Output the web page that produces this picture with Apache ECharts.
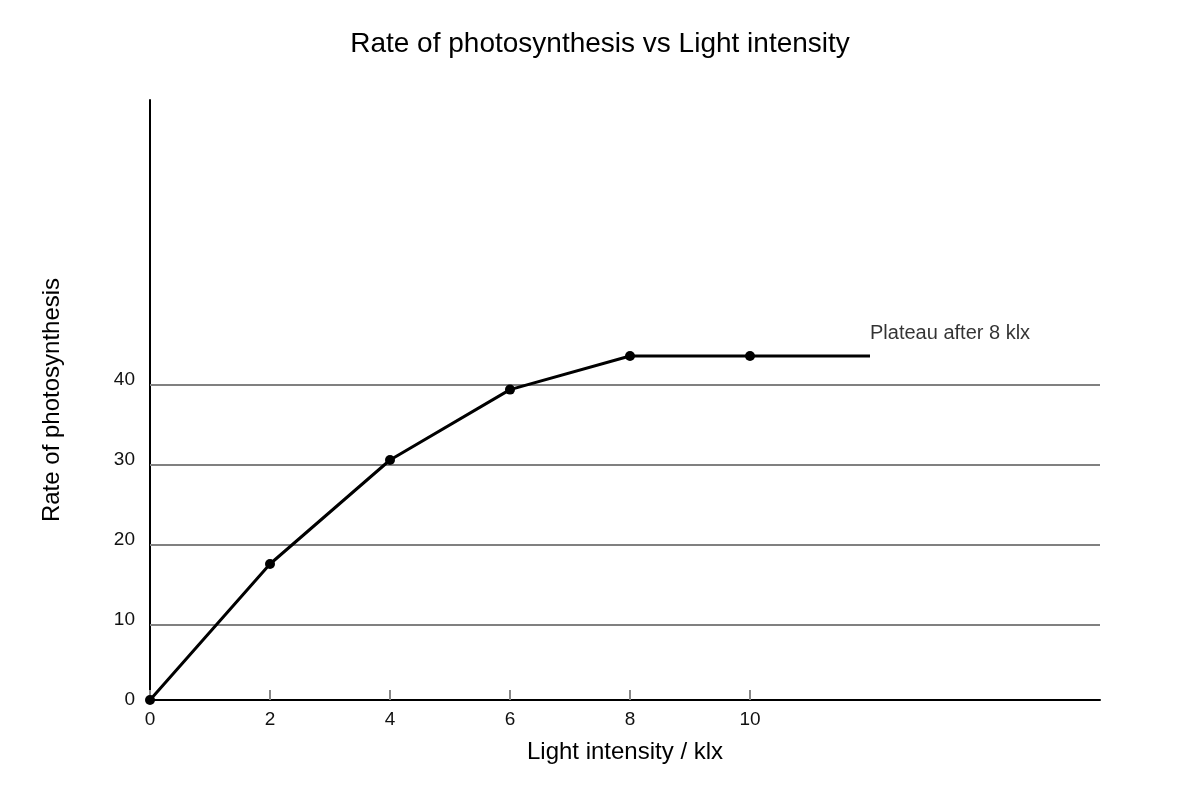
<!DOCTYPE html>
<html>
<head>
<meta charset="utf-8"/>
<script src="https://cdn.jsdelivr.net/npm/echarts@6/dist/echarts.min.js"></script>
<style>
  html, body { margin:0; padding:0; background:#fff; }
  #chart { width:1200px; height:800px; }
</style>
</head>
<body>
<div id="chart"></div>
<script>
// light intensity (klx) and rate readings
var light = [0, 2, 4, 6, 8, 10, 12];
var rate = [0, 17, 30, 38.8, 43, 43, 43];
var xTicks = [0, 2, 4, 6, 8, 10];
var yTicks = [0, 10, 20, 30, 40];
var gridVals = [10, 20, 30, 40];
var noteText = 'Plateau after 8 klx';

var font = 'Liberation Sans, Arial, sans-serif';
var chart = echarts.init(document.getElementById('chart'));

var pts = [];
for (var i = 0; i < light.length; i++) {
  var p = { value: [light[i], rate[i]] };
  if (i == light.length - 1) p.symbolSize = 0; // plateau end, no dot
  pts.push(p);
}
var last = light.length - 1;

var grid = [];
for (var j = 0; j < gridVals.length; j++) grid.push({ yAxis: gridVals[j] });

chart.setOption({
  animation: false,
  title: {
    text: 'Rate of photosynthesis vs Light intensity',
    left: 'center', top: 25,
    textStyle: { fontSize: 28, fontWeight: 'normal', color: '#000', fontFamily: font }
  },
  grid: { left: 150, right: 100, top: 100, bottom: 100 },
  xAxis: {
    type: 'value', min: 0, max: 95 / 6,
    name: 'Light intensity / klx', nameLocation: 'middle', nameGap: 40,
    nameTextStyle: { fontSize: 24, color: '#000', fontFamily: font },
    axisLine: { lineStyle: { color: '#000', width: 2 } },
    axisTick: { show: true, inside: true, length: 10, customValues: xTicks, lineStyle: { color: '#888', width: 2 } },
    axisLabel: { customValues: xTicks, fontSize: 19, color: '#111', margin: 10, fontFamily: font },
    splitLine: { show: false }
  },
  yAxis: [{
    type: 'value', min: 0, max: 75,
    name: 'Rate of photosynthesis', nameLocation: 'middle', nameGap: 86,
    nameTextStyle: { fontSize: 24, color: '#000', fontFamily: font },
    axisLine: { show: true, lineStyle: { color: '#000', width: 2 } },
    axisTick: { show: false },
    axisLabel: { customValues: yTicks, fontSize: 19, color: '#111', margin: 15, fontFamily: font },
    splitLine: { show: false }
  }, {
    // helper scale for the grey rules, drawn a few px lower as in the source
    type: 'value', min: 0.625, max: 75.625, show: false
  }],
  series: [{
    type: 'line',
    data: pts,
    symbol: 'circle', symbolSize: 10,
    itemStyle: { color: '#000' },
    lineStyle: { color: '#000', width: 3 },
    z: 5
  }, {
    type: 'line', yAxisIndex: 1, data: [],
    markLine: {
      silent: true, symbol: 'none', label: { show: false },
      lineStyle: { color: '#808080', width: 2, type: 'solid' },
      data: grid
    },
    z: 1
  }, {
    // note at the end of the plateau
    type: 'scatter', symbolSize: 1, itemStyle: { color: 'rgba(0,0,0,0)' },
    data: [[light[last], rate[last]]],
    label: {
      show: true, formatter: noteText, position: 'top', align: 'left',
      distance: 12, fontSize: 20, color: '#000', fontFamily: font
    },
    silent: true, z: 6
  }]
});
</script>
</body>
</html>
